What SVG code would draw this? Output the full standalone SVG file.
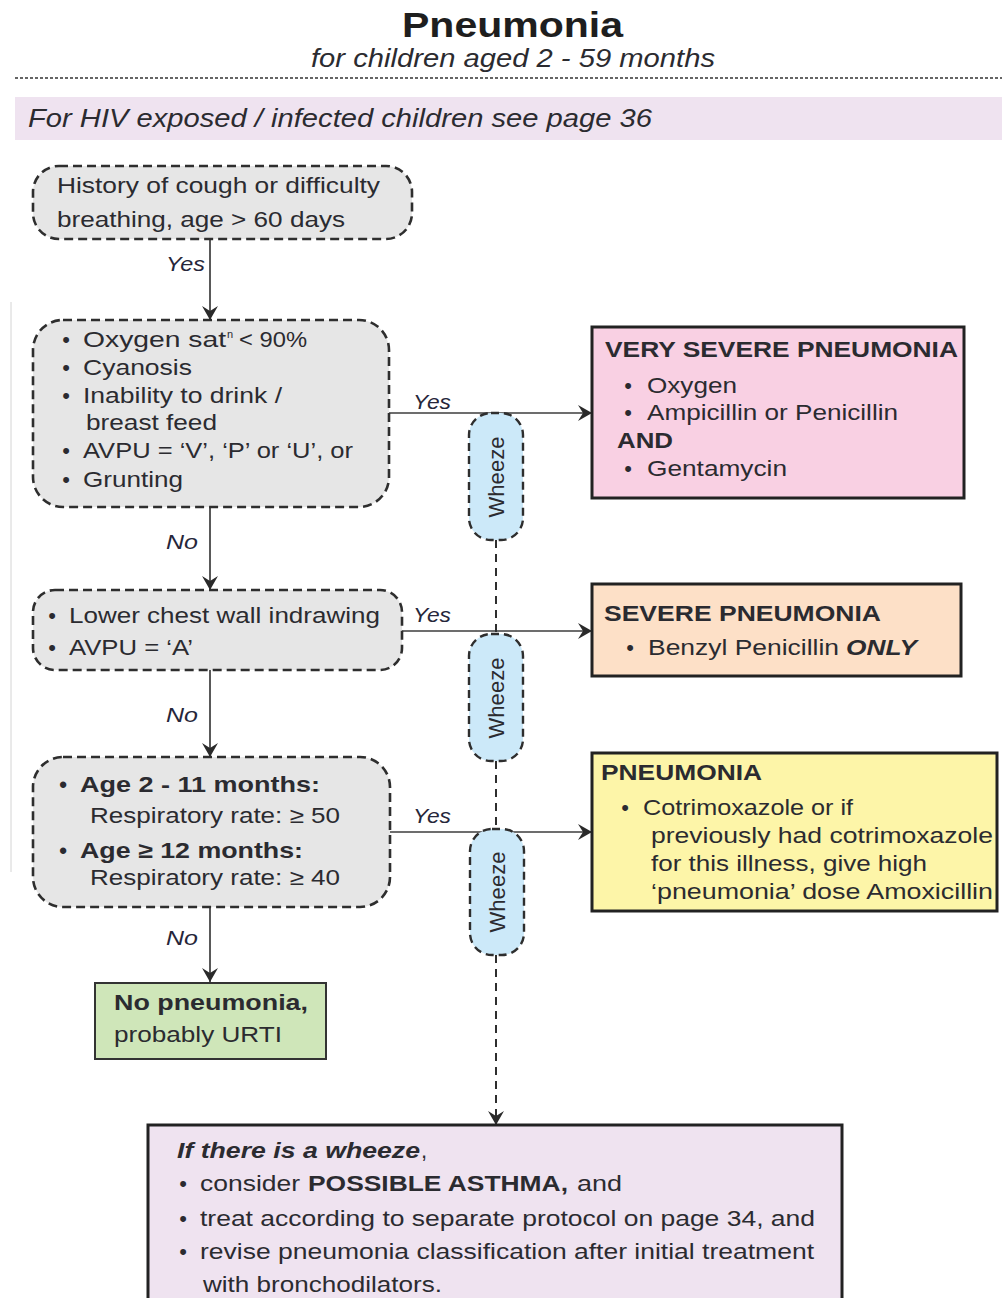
<svg xmlns="http://www.w3.org/2000/svg" width="1002" height="1298" viewBox="0 0 1002 1298">
  <style>
    text { font-family: "Liberation Sans", Arial, sans-serif; fill: #2b2b30; font-size: 22px; }
    .b { font-weight: bold; }
    .i { font-style: italic; }
    .bi { font-weight: bold; font-style: italic; }
    .title { font-weight: bold; font-size: 35px; fill: #1e1e1e; }
    .sub { font-style: italic; font-size: 25px; }
    .sup { font-size: 11px; }
    .lbl { font-style: italic; font-size: 21px; fill: #26263a; }
    .q { fill: #e6e6e6; stroke: #2e2e2e; stroke-width: 2.6; stroke-dasharray: 9 5; }
    .wz { fill: #cce9f9; stroke: #2e2e2e; stroke-width: 2.4; stroke-dasharray: 8 5; }
    .res { stroke: #222; stroke-width: 3; }
    .flow { fill: none; stroke: #3c3c3c; stroke-width: 1.7; }
    .wline { fill: none; stroke: #2e2e2e; stroke-width: 2; stroke-dasharray: 8 6; }
  </style>
  <defs>
    <marker id="arr" markerUnits="userSpaceOnUse" markerWidth="14" markerHeight="16" viewBox="0 0 14 16" refX="14" refY="8" orient="auto">
      <path d="M0,0 L14,8 L0,16 L5,8 z" fill="#2a2a2a"/>
    </marker>
  </defs>

  <rect x="0" y="0" width="1002" height="1298" fill="#ffffff"/>

  <!-- page edge -->
  <line x1="11" y1="302" x2="11" y2="872" stroke="#d4d4d4" stroke-width="1"/>

  <!-- heading -->
  <g id="heading">
    <text x="402" y="37" class="title" textLength="221" lengthAdjust="spacingAndGlyphs">Pneumonia</text>
    <text x="311" y="67" class="sub" textLength="404" lengthAdjust="spacingAndGlyphs">for children aged 2 - 59 months</text>
    <line x1="15" y1="78" x2="1002" y2="78" stroke="#333" stroke-width="1.3" stroke-dasharray="3 2"/>
    <rect x="15" y="97" width="987" height="43" fill="#efe3f0"/>
    <text x="28" y="127" class="sub" textLength="624" lengthAdjust="spacingAndGlyphs">For HIV exposed / infected children see page 36</text>
  </g>

  <!-- connectors -->
  <g id="connectors">
    <path class="flow" d="M210,240 V320" marker-end="url(#arr)"/>
    <path class="flow" d="M210,507 V590" marker-end="url(#arr)"/>
    <path class="flow" d="M210,670 V757" marker-end="url(#arr)"/>
    <path class="flow" d="M210,907 V982" marker-end="url(#arr)"/>
    <path class="flow" d="M389,413 H592" marker-end="url(#arr)"/>
    <path class="flow" d="M402,631 H592" marker-end="url(#arr)"/>
    <path class="flow" d="M390,832 H592" marker-end="url(#arr)"/>
    <path class="wline" d="M496,540 V634"/>
    <path class="wline" d="M496,761 V829"/>
    <path class="wline" d="M496,955 V1125" marker-end="url(#arr)"/>
    <text x="166" y="271" class="lbl" textLength="39" lengthAdjust="spacingAndGlyphs">Yes</text>
    <text x="166" y="549" class="lbl" textLength="32" lengthAdjust="spacingAndGlyphs">No</text>
    <text x="166" y="722" class="lbl" textLength="32" lengthAdjust="spacingAndGlyphs">No</text>
    <text x="166" y="945" class="lbl" textLength="32" lengthAdjust="spacingAndGlyphs">No</text>
    <text x="413" y="409" class="lbl" textLength="38" lengthAdjust="spacingAndGlyphs">Yes</text>
    <text x="413" y="622" class="lbl" textLength="38" lengthAdjust="spacingAndGlyphs">Yes</text>
    <text x="413" y="823" class="lbl" textLength="38" lengthAdjust="spacingAndGlyphs">Yes</text>
  </g>

  <!-- wheeze markers -->
  <g id="wheeze1">
    <rect class="wz" x="469" y="413" width="54" height="127" rx="22"/>
    <text transform="translate(504,477) rotate(-90)" text-anchor="middle" textLength="81" lengthAdjust="spacingAndGlyphs">Wheeze</text>
  </g>
  <g id="wheeze2">
    <rect class="wz" x="469" y="634" width="54" height="127" rx="22"/>
    <text transform="translate(504,698) rotate(-90)" text-anchor="middle" textLength="81" lengthAdjust="spacingAndGlyphs">Wheeze</text>
  </g>
  <g id="wheeze3">
    <rect class="wz" x="470" y="829" width="54" height="126" rx="22"/>
    <text transform="translate(505,892) rotate(-90)" text-anchor="middle" textLength="81" lengthAdjust="spacingAndGlyphs">Wheeze</text>
  </g>

  <!-- question: history -->
  <g id="history">
    <rect class="q" x="33" y="166" width="379" height="73" rx="26"/>
    <text x="57" y="193" textLength="323" lengthAdjust="spacingAndGlyphs">History of cough or difficulty</text>
    <text x="57" y="227" textLength="288" lengthAdjust="spacingAndGlyphs">breathing, age &gt; 60 days</text>
  </g>

  <!-- question: danger signs -->
  <g id="danger-signs">
    <rect class="q" x="33" y="320" width="356" height="187" rx="30"/>
    <g text-anchor="middle">
      <text x="66" y="347">•</text>
      <text x="66" y="375">•</text>
      <text x="66" y="403">•</text>
      <text x="66" y="458">•</text>
      <text x="66" y="487">•</text>
    </g>
    <text x="83" y="347" textLength="143" lengthAdjust="spacingAndGlyphs">Oxygen sat</text>
    <text x="227" y="338" class="sup">n</text>
    <text x="239" y="347" textLength="68" lengthAdjust="spacingAndGlyphs">&lt; 90%</text>
    <text x="83" y="375" textLength="109" lengthAdjust="spacingAndGlyphs">Cyanosis</text>
    <text x="83" y="403" textLength="199" lengthAdjust="spacingAndGlyphs">Inability to drink /</text>
    <text x="86" y="430" textLength="131" lengthAdjust="spacingAndGlyphs">breast feed</text>
    <text x="83" y="458" textLength="270" lengthAdjust="spacingAndGlyphs">AVPU = ‘V’, ‘P’ or ‘U’, or</text>
    <text x="83" y="487" textLength="100" lengthAdjust="spacingAndGlyphs">Grunting</text>
  </g>

  <!-- question: chest indrawing -->
  <g id="chest-indrawing">
    <rect class="q" x="33" y="590" width="369" height="80" rx="22"/>
    <text x="52" y="623" text-anchor="middle">•</text>
    <text x="52" y="655" text-anchor="middle">•</text>
    <text x="69" y="623" textLength="311" lengthAdjust="spacingAndGlyphs">Lower chest wall indrawing</text>
    <text x="69" y="655" textLength="124" lengthAdjust="spacingAndGlyphs">AVPU = ‘A’</text>
  </g>

  <!-- question: fast breathing -->
  <g id="fast-breathing">
    <rect class="q" x="33" y="757" width="357" height="150" rx="30"/>
    <text x="63" y="792" text-anchor="middle" class="b">•</text>
    <text x="63" y="858" text-anchor="middle" class="b">•</text>
    <text x="80" y="792" class="b" textLength="240" lengthAdjust="spacingAndGlyphs">Age 2 - 11 months:</text>
    <text x="90" y="823" textLength="250" lengthAdjust="spacingAndGlyphs">Respiratory rate: ≥ 50</text>
    <text x="80" y="858" class="b" textLength="223" lengthAdjust="spacingAndGlyphs">Age ≥ 12 months:</text>
    <text x="90" y="885" textLength="250" lengthAdjust="spacingAndGlyphs">Respiratory rate: ≥ 40</text>
  </g>

  <!-- outcome: very severe -->
  <g id="very-severe">
    <rect class="res" x="592" y="327" width="372" height="171" fill="#f9d0e3"/>
    <text x="605" y="357" class="b" textLength="353" lengthAdjust="spacingAndGlyphs">VERY SEVERE PNEUMONIA</text>
    <text x="628" y="393" text-anchor="middle">•</text>
    <text x="628" y="420" text-anchor="middle">•</text>
    <text x="628" y="476" text-anchor="middle">•</text>
    <text x="647" y="393" textLength="90" lengthAdjust="spacingAndGlyphs">Oxygen</text>
    <text x="647" y="420" textLength="251" lengthAdjust="spacingAndGlyphs">Ampicillin or Penicillin</text>
    <text x="617" y="448" class="b" textLength="56" lengthAdjust="spacingAndGlyphs">AND</text>
    <text x="647" y="476" textLength="140" lengthAdjust="spacingAndGlyphs">Gentamycin</text>
  </g>

  <!-- outcome: severe -->
  <g id="severe">
    <rect class="res" x="592" y="584" width="369" height="92" fill="#fde0c7"/>
    <text x="604" y="621" class="b" textLength="277" lengthAdjust="spacingAndGlyphs">SEVERE PNEUMONIA</text>
    <text x="630" y="655" text-anchor="middle">•</text>
    <text x="648" y="655" textLength="191" lengthAdjust="spacingAndGlyphs">Benzyl Penicillin</text>
    <text x="846" y="655" class="bi" textLength="71" lengthAdjust="spacingAndGlyphs">ONLY</text>
  </g>

  <!-- outcome: pneumonia -->
  <g id="pneumonia">
    <rect class="res" x="592" y="753" width="405" height="158" fill="#fdf5a8"/>
    <text x="601" y="780" class="b" textLength="161" lengthAdjust="spacingAndGlyphs">PNEUMONIA</text>
    <text x="625" y="815" text-anchor="middle">•</text>
    <text x="643" y="815" textLength="210" lengthAdjust="spacingAndGlyphs">Cotrimoxazole or if</text>
    <text x="651" y="843" textLength="342" lengthAdjust="spacingAndGlyphs">previously had cotrimoxazole</text>
    <text x="651" y="871" textLength="276" lengthAdjust="spacingAndGlyphs">for this illness, give high</text>
    <text x="651" y="899" textLength="342" lengthAdjust="spacingAndGlyphs">‘pneumonia’ dose Amoxicillin</text>
  </g>

  <!-- outcome: no pneumonia -->
  <g id="no-pneumonia">
    <rect x="95" y="983" width="231" height="76" fill="#cfe6b9" stroke="#333" stroke-width="2"/>
    <text x="114" y="1010" class="b" textLength="194" lengthAdjust="spacingAndGlyphs">No pneumonia,</text>
    <text x="114" y="1042" textLength="168" lengthAdjust="spacingAndGlyphs">probably URTI</text>
  </g>

  <!-- wheeze advice -->
  <g id="wheeze-advice">
    <rect class="res" x="148" y="1125" width="694" height="200" fill="#efe3f0"/>
    <text x="177" y="1158" class="bi" textLength="243" lengthAdjust="spacingAndGlyphs">If there is a wheeze</text>
    <text x="421" y="1158">,</text>
    <text x="183" y="1191" text-anchor="middle">•</text>
    <text x="183" y="1226" text-anchor="middle">•</text>
    <text x="183" y="1259" text-anchor="middle">•</text>
    <text x="200" y="1191" textLength="100" lengthAdjust="spacingAndGlyphs">consider</text>
    <text x="308" y="1191" class="b" textLength="260" lengthAdjust="spacingAndGlyphs">POSSIBLE ASTHMA,</text>
    <text x="577" y="1191" textLength="45" lengthAdjust="spacingAndGlyphs">and</text>
    <text x="200" y="1226" textLength="615" lengthAdjust="spacingAndGlyphs">treat according to separate protocol on page 34, and</text>
    <text x="200" y="1259" textLength="614" lengthAdjust="spacingAndGlyphs">revise pneumonia classification after initial treatment</text>
    <text x="203" y="1292" textLength="239" lengthAdjust="spacingAndGlyphs">with bronchodilators.</text>
  </g>
</svg>
